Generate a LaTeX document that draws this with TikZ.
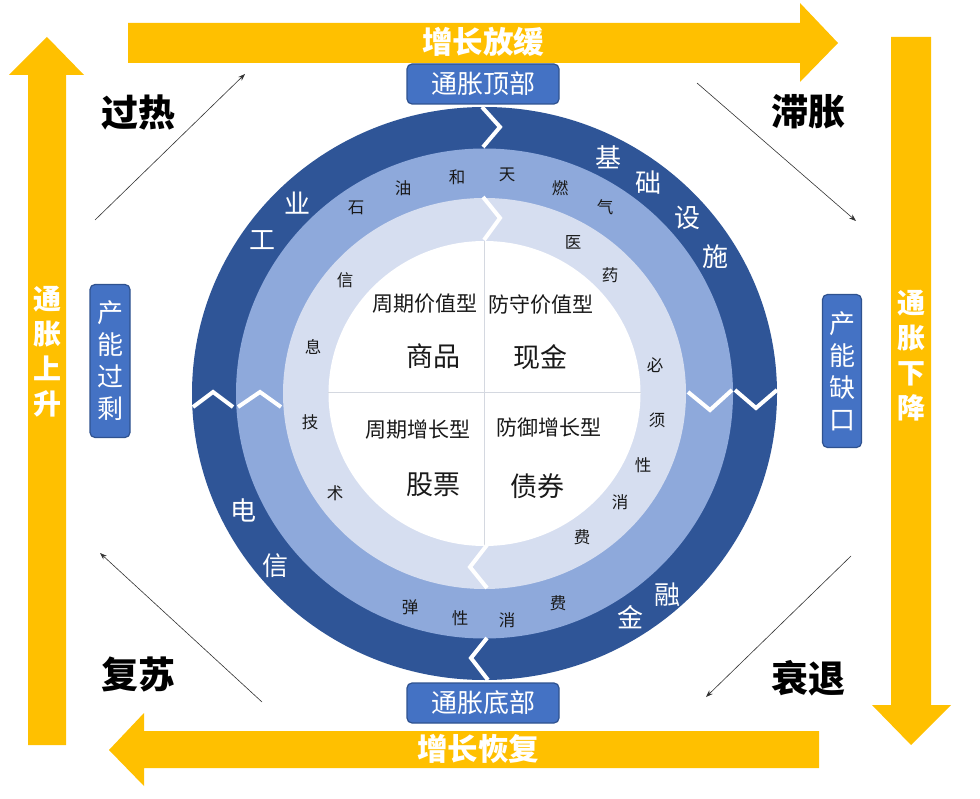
\documentclass[tikz,border=0pt]{standalone}
\usepackage{fontspec}
\setmainfont{Noto Sans CJK SC}
\usetikzlibrary{arrows.meta}
\definecolor{dblue}{HTML}{2F5597}
\definecolor{mblue}{HTML}{8EA9DB}
\definecolor{lblue}{HTML}{D6DEF0}
\definecolor{boxblue}{HTML}{4472C4}
\definecolor{boxedge}{HTML}{2F528F}
\definecolor{gold}{HTML}{FFC000}
\definecolor{divgray}{HTML}{D4D8E0}
\tikzset{
  bluebox/.style={draw=boxedge, line width=1.2pt, fill=boxblue, rounded corners=5pt, text=white, inner sep=0pt},
  htxt/.style={font=\fontsize{26}{30}\selectfont},
  vtxt/.style={font=\fontsize{26}{32}\selectfont, align=center},
  arrowtxt/.style={text=white, font=\fontsize{30.5}{34}\selectfont\bfseries, align=center},
  cornertxt/.style={font=\fontsize{37}{40}\selectfont\bfseries},
  outerch/.style={text=white, font=\fontsize{26}{28}\selectfont},
  ringch/.style={text=black!90, font=\fontsize{16.5}{18}\selectfont},
  typetxt/.style={text=black!90, font=\fontsize{21}{24}\selectfont},
  assettxt/.style={text=black!90, font=\fontsize{27}{30}\selectfont},
  chev/.style={draw=white, line width=4pt},
  thinarrow/.style={draw=black!80, line width=0.6pt, -{Stealth[length=7pt,width=5pt]}},
  divline/.style={draw=divgray, line width=0.9pt},
}
\begin{document}
\begin{tikzpicture}[x=1pt,y=-1pt]
\useasboundingbox (0,0) rectangle (980,799);
\fill[white] (0,0) rectangle (980,799);

% yellow arrows
\fill[gold] (128,23) -- (800,23) -- (800,3) -- (838,43) -- (800,82) -- (800,63) -- (128,63) -- cycle;
\fill[gold] (28,745) -- (28,75) -- (9,75) -- (47,37) -- (84,75) -- (66,75) -- (66,745) -- cycle;
\fill[gold] (891,37) -- (931,37) -- (931,705) -- (951,705) -- (911,745) -- (872,705) -- (891,705) -- cycle;
\fill[gold] (819,731) -- (819,768) -- (144,768) -- (144,786) -- (109,750) -- (144,713) -- (144,731) -- cycle;

\node[arrowtxt] (slow) at (483,42) {增长放缓};
\node[arrowtxt] (recover) at (478,749) {增长恢复};
\node[arrowtxt, font=\fontsize{28}{35}\selectfont\bfseries] (infup) at (47,352) {通\\胀\\上\\升};
\node[arrowtxt, font=\fontsize{28}{35}\selectfont\bfseries] (infdown) at (911,356) {通\\胀\\下\\降};

% rings
\fill[dblue] (484.5,393.5) ellipse [x radius=292.5, y radius=286.5];
\fill[mblue] (484.5,393.5) ellipse [x radius=248.5, y radius=245];
\fill[lblue] (484.5,393.5) ellipse [x radius=201.5, y radius=195.5];
\fill[white] (484.5,393.5) ellipse [x radius=156, y radius=152.5];

% quadrant dividers
\draw[divline] (484,241) -- (484,546);
\draw[divline] (328,392) -- (641,392);

% chevrons
\draw[chev] (482,107) -- (500,127) -- (483,147);
\draw[chev] (483,197) -- (500,218) -- (484,240);
\draw[chev] (487,638) -- (471,658) -- (488,680);
\draw[chev] (487,545) -- (470,567) -- (487,588);
\draw[chev] (193,407) -- (213,392) -- (233,407);
\draw[chev] (238,407) -- (260,392) -- (281,407);
\draw[chev] (735,390) -- (756,408) -- (777,390);
\draw[chev] (688,392) -- (710,410) -- (732,390);

% boxes
\node[bluebox, htxt, minimum width=152pt, minimum height=40pt] (top) at (483,84) {通胀顶部};
\node[bluebox, htxt, minimum width=152pt, minimum height=40pt] (bottom) at (483,703) {通胀底部};
\node[bluebox, vtxt, minimum width=40pt, minimum height=153pt] (overcap) at (110,361) {产\\能\\过\\剩};
\node[bluebox, vtxt, minimum width=39pt, minimum height=153pt] (gapcap) at (842,371) {产\\能\\缺\\口};

% corner labels
\node[cornertxt] (hot) at (138,112) {过热};
\node[cornertxt] (stag) at (808,112) {滞胀};
\node[cornertxt] (recov) at (138,674) {复苏};
\node[cornertxt] (rec) at (808,678) {衰退};

% thin diagonal arrows
\coordinate (tlA) at (95,220); \coordinate (tlB) at (245,74);
\coordinate (trA) at (697,83); \coordinate (trB) at (856,221);
\coordinate (brA) at (851,556); \coordinate (brB) at (706,697);
\coordinate (blA) at (262,702); \coordinate (blB) at (100,553);
\draw[thinarrow] (tlA) -- (tlB);
\draw[thinarrow] (trA) -- (trB);
\draw[thinarrow] (brA) -- (brB);
\draw[thinarrow] (blA) -- (blB);

% outer ring text
\node[outerch] (o1) at (262,240) {工};
\node[outerch] (o2) at (297,203) {业};
\node[outerch] (o3) at (608,157) {基};
\node[outerch] (o4) at (648,183) {础};
\node[outerch] (o5) at (687,218) {设};
\node[outerch] (o6) at (715,257) {施};
\node[outerch] (o7) at (243,510) {电};
\node[outerch] (o8) at (275,566) {信};
\node[outerch] (o9) at (630,617) {金};
\node[outerch] (o10) at (667,595) {融};

% middle ring text
\node[ringch] (m1) at (356,208) {石};
\node[ringch] (m2) at (403,188) {油};
\node[ringch] (m3) at (457,177) {和};
\node[ringch] (m4) at (507,175) {天};
\node[ringch] (m5) at (560,188) {燃};
\node[ringch] (m6) at (605,207) {气};
\node[ringch] (m7) at (410,607) {弹};
\node[ringch] (m8) at (460,618) {性};
\node[ringch] (m9) at (507,620) {消};
\node[ringch] (m10) at (558,603) {费};

% inner ring text
\node[ringch] (i1) at (345,280) {信};
\node[ringch] (i2) at (313,347) {息};
\node[ringch] (i3) at (310,422) {技};
\node[ringch] (i4) at (335,493) {术};
\node[ringch] (i5) at (573,242) {医};
\node[ringch] (i6) at (610,275) {药};
\node[ringch] (i7) at (655,365) {必};
\node[ringch] (i8) at (657,420) {须};
\node[ringch] (i9) at (643,465) {性};
\node[ringch] (i10) at (620,502) {消};
\node[ringch] (i11) at (582,537) {费};

% centre
\node[typetxt] (t1) at (425,304) {周期价值型};
\node[typetxt] (t2) at (541,305) {防守价值型};
\node[typetxt] (t3) at (418,430) {周期增长型};
\node[typetxt] (t4) at (549,428) {防御增长型};
\node[assettxt] (a1) at (433,356) {商品};
\node[assettxt] (a2) at (540,357) {现金};
\node[assettxt] (a3) at (433,485) {股票};
\node[assettxt] (a4) at (537,486) {债券};
\end{tikzpicture}
\end{document}
